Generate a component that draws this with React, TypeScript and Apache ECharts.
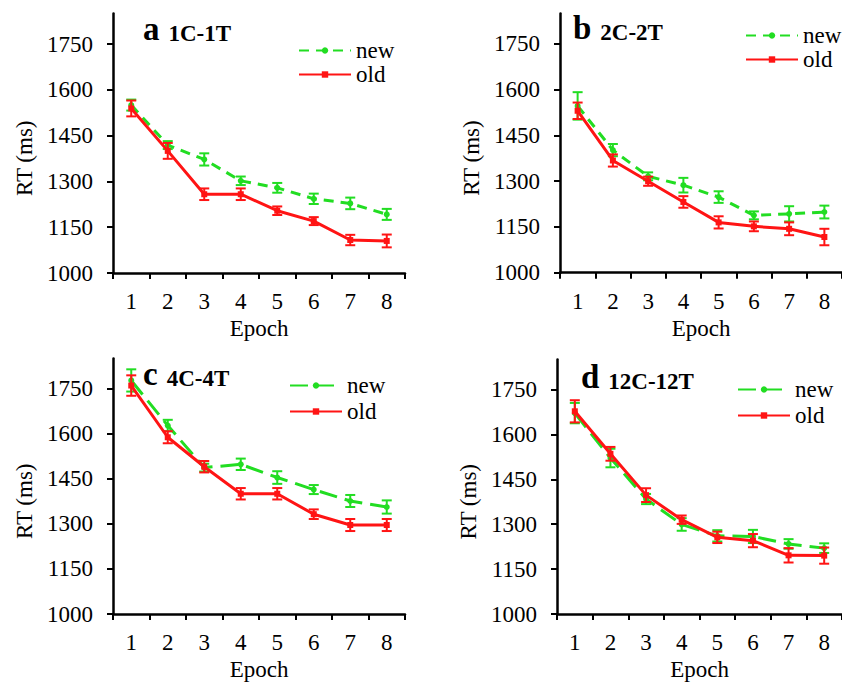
import React, { useEffect, useRef } from "react";
import * as echarts from "echarts";

const epochs = ["1", "2", "3", "4", "5", "6", "7", "8"];
const yTicks = [1000, 1150, 1300, 1450, 1600, 1750];

const aNew = [1550, 1419, 1372, 1302, 1279, 1243, 1228, 1192];
const aNewErr = [18, 13, 20, 14, 16, 17, 19, 18];
const aOld = [1539, 1400, 1258, 1258, 1204, 1170, 1108, 1105];
const aOldErr = [26, 26, 19, 19, 14, 13, 17, 21];

const bNew = [1547, 1402, 1316, 1287, 1248, 1188, 1193, 1199];
const bNewErr = [45, 20, 13, 24, 19, 13, 25, 21];
const bOld = [1531, 1368, 1300, 1232, 1165, 1152, 1144, 1117];
const bOldErr = [27, 20, 15, 19, 20, 16, 21, 27];

const cNew = [1777, 1627, 1487, 1498, 1454, 1414, 1376, 1356];
const cNewErr = [37, 19, 13, 19, 21, 15, 20, 22];
const cOld = [1760, 1588, 1490, 1400, 1400, 1332, 1296, 1296];
const cOldErr = [34, 20, 19, 19, 19, 16, 20, 20];

const dNew = [1671, 1521, 1384, 1299, 1261, 1259, 1234, 1220];
const dNewErr = [34, 31, 17, 21, 19, 22, 16, 16];
const dOld = [1677, 1535, 1397, 1315, 1256, 1245, 1196, 1195];
const dOldErr = [37, 23, 23, 14, 19, 22, 24, 27];

const panelLetters = ["a", "b", "c", "d"];
const panelNames = ["1C-1T", "2C-2T", "4C-4T", "12C-12T"];

const GREEN = "#22dd22";
const RED = "#ff1414";
const FONT = "Liberation Serif";

const serif = (size: number) => ({ fontFamily: FONT, fontSize: size, color: "#000" });

type Panel = {
  grid: { left: number; top: number; width: number; height: number };
  title: { left: number; top: number };
  legend: { left: number; top: number; gap: number };
  dash: number[];
  newV: number[];
  newE: number[];
  oldV: number[];
  oldE: number[];
};

const panels: Panel[] = [
  {
    grid: { left: 113, top: 13.5, width: 292, height: 259.5 },
    title: { left: 143, top: 11 },
    legend: { left: 298, top: 39, gap: 1 },
    dash: [10, 7],
    newV: aNew, newE: aNewErr, oldV: aOld, oldE: aOldErr,
  },
  {
    grid: { left: 560, top: 13.5, width: 282, height: 259.2 },
    title: { left: 573, top: 10 },
    legend: { left: 745, top: 24, gap: 1 },
    dash: [10, 7],
    newV: bNew, newE: bNewErr, oldV: bOld, oldE: bOldErr,
  },
  {
    grid: { left: 113, top: 358.5, width: 292, height: 259.5 },
    title: { left: 143, top: 356 },
    legend: { left: 289, top: 374, gap: 3 },
    dash: [18, 8],
    newV: cNew, newE: cNewErr, oldV: cOld, oldE: cOldErr,
  },
  {
    grid: { left: 557, top: 359.5, width: 285, height: 259.5 },
    title: { left: 581, top: 359 },
    legend: { left: 737, top: 378, gap: 3 },
    dash: [18, 8],
    newV: dNew, newE: dNewErr, oldV: dOld, oldE: dOldErr,
  },
];

function errSeries(id: string, idx: number, vals: number[], errs: number[], color: string) {
  return {
    type: "custom",
    name: id,
    xAxisIndex: idx,
    yAxisIndex: idx,
    silent: true,
    z: color === RED ? 4 : 2,
    encode: { x: 0, y: [1, 2] },
    data: vals.map((v, i) => [i, v - errs[i], v + errs[i]]),
    renderItem: (params: any, api: any) => {
      const x = api.value(0);
      const lo = api.coord([x, api.value(1)]);
      const hi = api.coord([x, api.value(2)]);
      const w = 5;
      const style = { stroke: color, lineWidth: 2, fill: "none" };
      return {
        type: "group",
        children: [
          { type: "line", shape: { x1: lo[0], y1: lo[1], x2: hi[0], y2: hi[1] }, style },
          { type: "line", shape: { x1: lo[0] - w, y1: lo[1], x2: lo[0] + w, y2: lo[1] }, style },
          { type: "line", shape: { x1: hi[0] - w, y1: hi[1], x2: hi[0] + w, y2: hi[1] }, style },
        ],
      };
    },
  };
}

export default function App() {
  const ref = useRef<HTMLDivElement>(null);
  useEffect(() => {
    if (!ref.current) return;
    const chart = echarts.init(ref.current, null, { renderer: "svg" });
    const grid: any[] = [];
    const xAxis: any[] = [];
    const yAxis: any[] = [];
    const series: any[] = [];
    const legend: any[] = [];
    const title: any[] = [];

    panels.forEach((p, i) => {
      grid.push({ ...p.grid, containLabel: false });
      xAxis.push({
        type: "category",
        gridIndex: i,
        data: epochs,
        boundaryGap: true,
        name: "{s|Epoch}",
        nameLocation: "middle",
        nameGap: 44,
        nameTextStyle: { ...serif(23), rich: { s: serif(23) } },
        axisLine: { lineStyle: { color: "#000", width: 2.5 } },
        axisTick: { show: true, inside: false, length: 6, lineStyle: { color: "#000", width: 2 } },
        axisLabel: {
          ...serif(23),
          margin: 17,
          interval: 0,
          formatter: (v: string) => `{s|${v}}`,
          rich: { s: serif(23) },
        },
        splitLine: { show: false },
      });
      yAxis.push({
        type: "value",
        gridIndex: i,
        min: 1000,
        max: 1850,
        interval: 150,
        name: "{s|RT (ms)}",
        nameLocation: "middle",
        nameGap: 77,
        nameTextStyle: { ...serif(23), padding: [0, 30, 0, 0], rich: { s: serif(23) } },
        axisLine: { show: true, lineStyle: { color: "#000", width: 2.5 } },
        axisTick: { show: true, inside: false, length: 6, customValues: yTicks, lineStyle: { color: "#000", width: 2 } },
        axisLabel: {
          ...serif(23),
          margin: 20,
          customValues: yTicks,
          formatter: (v: number) => `{s|${v}}`,
          rich: { s: serif(23) },
        },
        splitLine: { show: false },
      });
      const nName = `new-${panelLetters[i]}`;
      const oName = `old-${panelLetters[i]}`;
      series.push(errSeries(`errnew-${i}`, i, p.newV, p.newE, GREEN));
      series.push({
        type: "line",
        name: nName,
        xAxisIndex: i,
        yAxisIndex: i,
        data: p.newV,
        symbol: "circle",
        symbolSize: 6,
        z: 3,
        lineStyle: { color: GREEN, width: 3, type: p.dash },
        itemStyle: { color: GREEN },
      });
      series.push(errSeries(`errold-${i}`, i, p.oldV, p.oldE, RED));
      series.push({
        type: "line",
        name: oName,
        xAxisIndex: i,
        yAxisIndex: i,
        data: p.oldV,
        symbol: "rect",
        symbolSize: 6,
        z: 5,
        lineStyle: { color: RED, width: 3, type: "solid" },
        itemStyle: { color: RED },
      });
      legend.push({
        data: [nName, oName],
        orient: "vertical",
        left: p.legend.left,
        top: p.legend.top,
        padding: 0,
        itemGap: p.legend.gap,
        itemWidth: 52,
        itemHeight: 8,
        selectedMode: false,
        formatter: (name: string) => `{s|${name.split("-")[0]}}`,
        textStyle: { ...serif(23), rich: { s: serif(23) } },
      });
      title.push({
        left: p.title.left,
        top: p.title.top,
        padding: 0,
        text: `{l|${panelLetters[i]}}  {t|${panelNames[i]}}`,
        textStyle: {
          fontFamily: FONT,
          fontWeight: "bold",
          color: "#000",
          rich: {
            l: { fontFamily: FONT, fontWeight: "bold", fontSize: 33, lineHeight: 34, verticalAlign: "bottom", color: "#000" },
            t: { fontFamily: FONT, fontWeight: "bold", fontSize: 23, lineHeight: 34, verticalAlign: "bottom", color: "#000" },
          },
        },
      });
    });

    chart.setOption({
      animation: false,
      backgroundColor: "#fff",
      textStyle: { fontFamily: FONT },
      title,
      legend,
      grid,
      xAxis,
      yAxis,
      series,
    });
    return () => chart.dispose();
  }, []);
  return <div ref={ref} style={{ position: "absolute", left: 0, top: 0, width: 842, height: 682 }} />;
}
